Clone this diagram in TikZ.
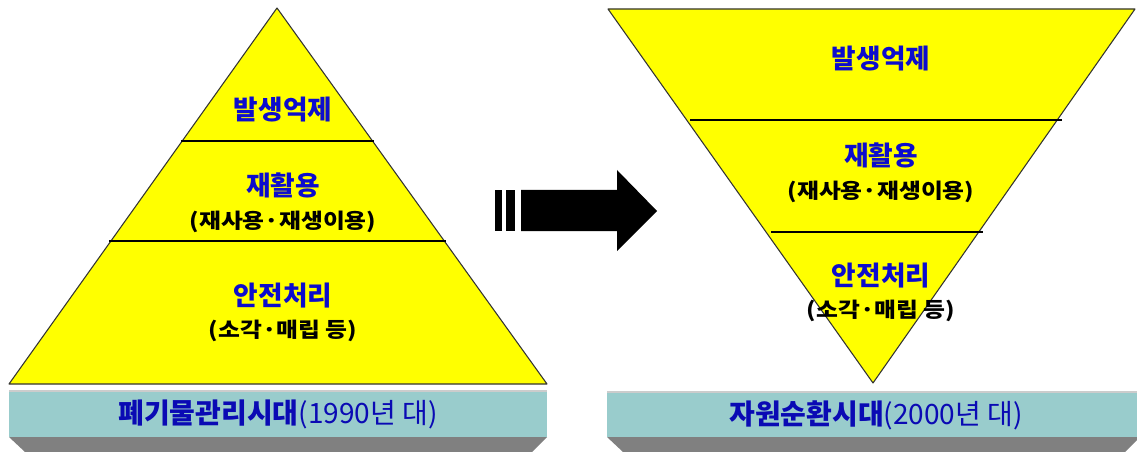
\documentclass[tikz,border=0pt]{standalone}
\usepackage{fontspec}
\setmainfont{Noto Sans CJK KR}
\usepackage{tikz}
\usetikzlibrary{positioning}

\definecolor{pyryellow}{RGB}{255,255,0}
\definecolor{barteal}{RGB}{153,204,204}
\definecolor{bargray}{RGB}{128,128,128}
\definecolor{lblblue}{RGB}{12,12,205}
\definecolor{barblue}{RGB}{10,10,180}

\begin{document}
\begin{tikzpicture}[x=0.75pt,y=-0.75pt]
	\tikzstyle{layer} = [fill=pyryellow, draw=black!80, line width=0.8pt, line join=round]
	\tikzstyle{divider} = [draw=black, line width=0.8pt]
	\tikzstyle{level} = [text=lblblue, font=\bfseries\fontsize{20}{22}\selectfont, inner sep=0pt]
	\tikzstyle{detail} = [text=black, font=\bfseries\fontsize{15.5}{18}\selectfont\addfontfeature{FakeStretch=1.15}, inner sep=0pt]
	\tikzstyle{era} = [text=barblue, font=\fontsize{21}{23}\selectfont, inner sep=0pt]
	
	\useasboundingbox (0,0) rectangle (1137,452);
	
	% left pyramid
	\draw [layer] (277,8) -- (547,384) -- (9,384) -- cycle;
	\draw [divider] (181,141) -- (374,141);
	\draw [divider] (109,241) -- (446,241);
	
	\node [level] (lprevent) at (283,110) {발생억제};
	\node [level] (lrecycle) at (283,185) {재활용};
	\node [detail, below = 0.33cm of lrecycle] (lreuse) {(재사용·재생이용)};
	\node [level] (ldispose) at (283,296) {안전처리};
	\node [detail, below = 0.3cm of ldispose] (lburn) {(소각·매립 등)};
	
	% right pyramid
	\draw [layer] (608,9) -- (1135,9) -- (873,383) -- cycle;
	\draw [divider] (690,120) -- (1062,120);
	\draw [divider] (771,232) -- (983,232);
	
	\node [level] (rprevent) at (881,59) {발생억제};
	\node [level] (rrecycle) at (881,155) {재활용};
	\node [detail, below = 0.33cm of rrecycle] (rreuse) {(재사용·재생이용)};
	\node [level] (rdispose) at (881,276) {안전처리};
	\node [detail, below = 0.3cm of rdispose] (rburn) {(소각·매립 등)};
	
	% arrow
	\fill [black] (495,190) rectangle (502,231);
	\fill [black] (506,190) rectangle (515,231);
	\fill [black] (521,190) -- (617,190) -- (617,170) -- (657,211) -- (617,251) -- (617,231) -- (521,231) -- cycle;
	
	% era bars
	\fill [barteal] (9,391) rectangle (547,437);
	\fill [bargray] (9,437) -- (547,437) -- (532,452) -- (25,452) -- cycle;
	\draw [black!20, line width=0.8pt] (9,391) -- (547,391);
	\node [era] (lera) at (278,414) {\textbf{폐기물관리시대}(1990년 대)};
	
	\fill [barteal] (607,392) rectangle (1137,437);
	\fill [bargray] (607,437) -- (1137,437) -- (1137,440) -- (1125,452) -- (623,452) -- cycle;
	\draw [black!20, line width=0.8pt] (607,392) -- (1137,392);
	\node [era] (rera) at (876,415) {\textbf{자원순환시대}(2000년 대)};
	
\end{tikzpicture}
\end{document}
